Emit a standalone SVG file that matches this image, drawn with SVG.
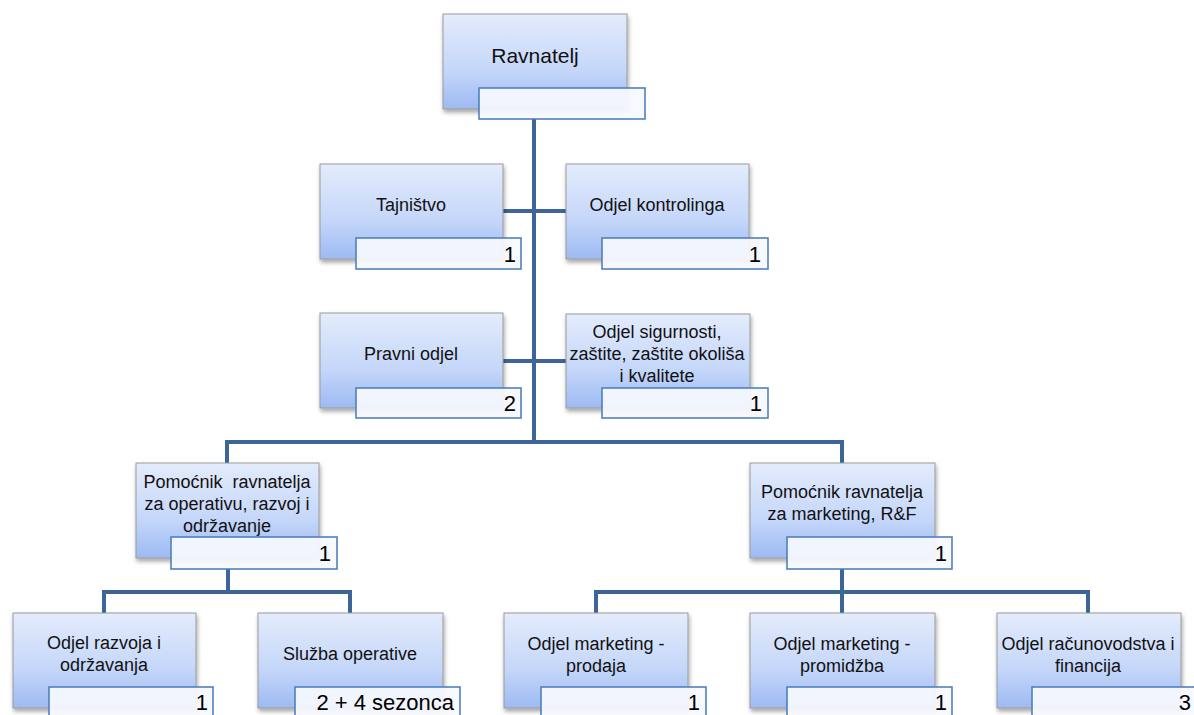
<svg xmlns="http://www.w3.org/2000/svg" width="1194" height="715" viewBox="0 0 1194 715">
<defs>
<linearGradient id="g" x1="0" y1="0" x2="0" y2="1">
<stop offset="0" stop-color="#e4ecfc"/>
<stop offset="0.6" stop-color="#c4d6f9"/>
<stop offset="1" stop-color="#9dbaf3"/>
</linearGradient>
<filter id="sh" x="-10%" y="-10%" width="125%" height="130%">
<feDropShadow dx="1" dy="3" stdDeviation="2" flood-color="#000" flood-opacity="0.35"/>
</filter>
</defs>
<style>
.box{fill:url(#g);stroke:#9a9a9a;stroke-width:1;filter:url(#sh)}
.sub{fill:#f6f9fe;fill-opacity:0.93;stroke:#4f81bd;stroke-width:1.6}
.t{font-family:"Liberation Sans",Arial,sans-serif;font-size:18px;fill:#111;text-anchor:middle}
.n{font-family:"Liberation Sans",Arial,sans-serif;font-size:22px;fill:#000;text-anchor:end}
.c{fill:none;stroke:#3d6599;stroke-width:4;stroke-linejoin:miter}
</style>
<rect width="1194" height="715" fill="#fff"/>
<g id="connectors">
<path class="c" d="M534 119V442"/>
<path class="c" d="M503 211H566M503 361H566"/>
<path class="c" d="M227 463V442H842V463"/>
<path class="c" d="M228 569V592M104 613V592H350V613"/>
<path class="c" d="M842 569V613M596 613V592H1088V613"/>
</g>
<g id="n-ravnatelj">
<rect class="box" x="443" y="14" width="184" height="95"/>
<text class="t" x="535" y="63" style="font-size:21px">Ravnatelj</text>
<rect class="sub" x="479" y="88" width="166" height="31"/>
</g>
<g id="n-tajnistvo">
<rect class="box" x="320" y="164" width="183" height="95"/>
<text class="t" x="411" y="211">Tajništvo</text>
<rect class="sub" x="356" y="238" width="165" height="31"/>
<text class="n" x="516" y="262">1</text>
</g>
<g id="n-kontroling">
<rect class="box" x="566" y="164" width="183" height="95"/>
<text class="t" x="657" y="211">Odjel kontrolinga</text>
<rect class="sub" x="602" y="238" width="166" height="31"/>
<text class="n" x="761" y="262">1</text>
</g>
<g id="n-pravni">
<rect class="box" x="320" y="313" width="183" height="95"/>
<text class="t" x="411" y="360">Pravni odjel</text>
<rect class="sub" x="356" y="388" width="165" height="30"/>
<text class="n" x="516" y="411">2</text>
</g>
<g id="n-sigurnost">
<rect class="box" x="566" y="314" width="184" height="94"/>
<text class="t" x="657" y="338">Odjel sigurnosti,</text>
<text class="t" x="657" y="360">zaštite, zaštite okoliša</text>
<text class="t" x="657" y="382">i kvalitete</text>
<rect class="sub" x="602" y="388" width="166" height="30"/>
<text class="n" x="762" y="411">1</text>
</g>
<g id="n-pomocnik-op">
<rect class="box" x="136" y="463" width="183" height="95"/>
<text class="t" x="227" y="488" xml:space="preserve">Pomoćnik  ravnatelja</text>
<text class="t" x="227" y="510">za operativu, razvoj i</text>
<text class="t" x="227" y="532">održavanje</text>
<rect class="sub" x="171" y="537" width="166" height="32"/>
<text class="n" x="331" y="561">1</text>
</g>
<g id="n-pomocnik-mk">
<rect class="box" x="750" y="463" width="185" height="95"/>
<text class="t" x="842" y="498">Pomoćnik ravnatelja</text>
<text class="t" x="842" y="520">za marketing, R&amp;F</text>
<rect class="sub" x="787" y="537" width="165" height="32"/>
<text class="n" x="947" y="561">1</text>
</g>
<g id="n-razvoj">
<rect class="box" x="13" y="613" width="183" height="95"/>
<text class="t" x="104" y="649">Odjel razvoja i</text>
<text class="t" x="104" y="671">održavanja</text>
<rect class="sub" x="49" y="687" width="164" height="32"/>
<text class="n" x="208" y="710">1</text>
</g>
<g id="n-sluzba">
<rect class="box" x="258" y="613" width="185" height="95"/>
<text class="t" x="350" y="660">Služba operative</text>
<rect class="sub" x="295" y="687" width="165" height="32"/>
<text class="n" x="454" y="710">2 + 4 sezonca</text>
</g>
<g id="n-prodaja">
<rect class="box" x="504" y="613" width="184" height="95"/>
<text class="t" x="596" y="650">Odjel marketing -</text>
<text class="t" x="596" y="672">prodaja</text>
<rect class="sub" x="541" y="687" width="165" height="32"/>
<text class="n" x="700" y="710">1</text>
</g>
<g id="n-promidzba">
<rect class="box" x="750" y="613" width="185" height="95"/>
<text class="t" x="842" y="650">Odjel marketing -</text>
<text class="t" x="842" y="672">promidžba</text>
<rect class="sub" x="787" y="687" width="165" height="32"/>
<text class="n" x="947" y="710">1</text>
</g>
<g id="n-racunovodstvo">
<rect class="box" x="997" y="613" width="184" height="95"/>
<text class="t" x="1088" y="650">Odjel računovodstva i</text>
<text class="t" x="1088" y="672">financija</text>
<rect class="sub" x="1032" y="687" width="170" height="32"/>
<text class="n" x="1191" y="710">3</text>
</g>
</svg>
